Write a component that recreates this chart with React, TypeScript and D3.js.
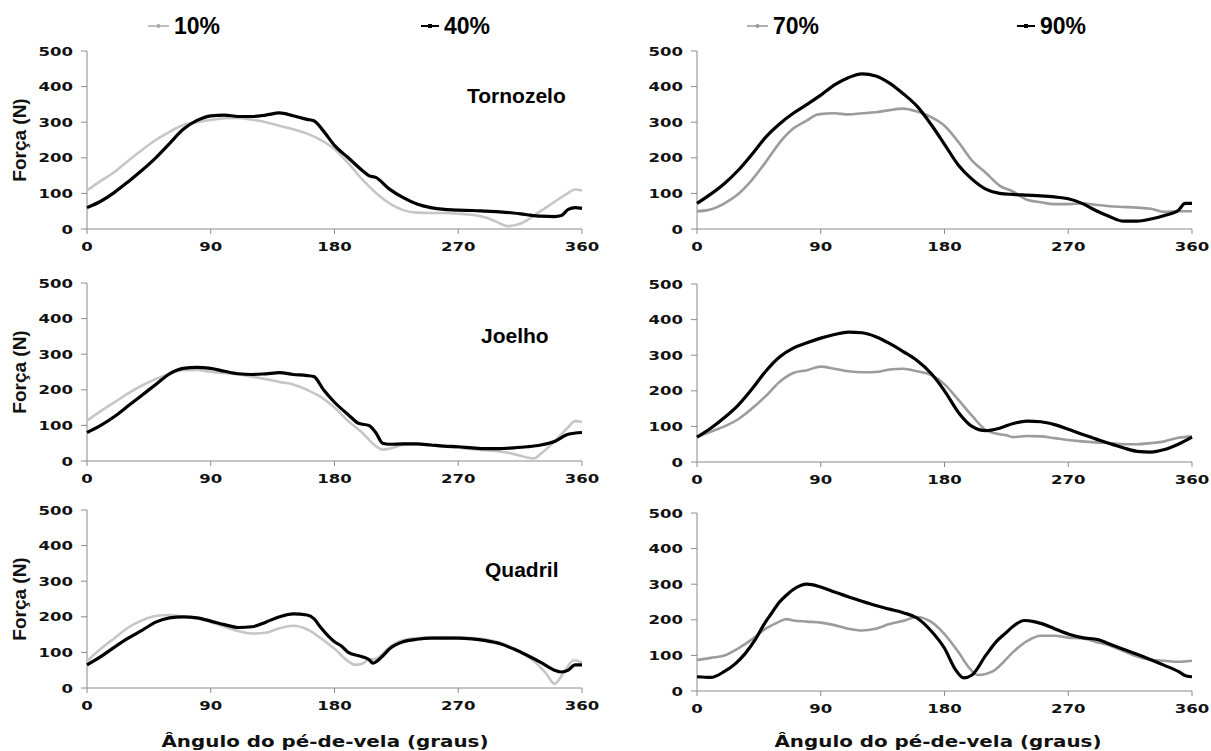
import React from 'react';
import * as d3 from 'd3';

const angleTicks = [0, 90, 180, 270, 360];
const forceTicks = [0, 100, 200, 300, 400, 500];
const joints = ['Tornozelo', 'Joelho', 'Quadril'];
const legendLeft = ['10%', '40%'];
const legendRight = ['70%', '90%'];
const xTitle = 'Ângulo do pé-de-vela (graus)';
const yTitle = 'Força (N)';

type Pt = [number, number];

const tornozelo10: Pt[] = [[0,108],[10,135],[20,160],[30,192],[40,222],[50,250],[60,273],[70,292],[80,300],[90,306],[100,311],[110,312],[120,307],[130,300],[140,290],[150,280],[160,268],[170,250],[180,225],[190,185],[200,140],[210,102],[220,72],[230,53],[240,46],[250,45],[260,45],[270,43],[280,40],[290,32],[298,20],[306,8],[318,20],[327,43],[338,71],[349,99],[355,111],[360,108]];
const tornozelo40: Pt[] = [[0,60],[10,78],[20,103],[30,133],[40,165],[50,200],[60,240],[70,280],[80,305],[90,318],[100,320],[110,316],[120,316],[130,320],[140,326],[150,318],[160,308],[165,304],[172,275],[180,235],[190,200],[200,165],[205,150],[210,145],[220,112],[230,88],[240,70],[250,60],[260,55],[270,53],[280,52],[290,50],[300,48],[310,45],[320,40],[330,36],[340,35],[345,38],[350,55],[355,60],[360,58]];
const tornozelo70: Pt[] = [[0,50],[8,53],[15,62],[20,72],[30,98],[40,138],[50,188],[60,242],[70,282],[80,305],[88,322],[100,325],[110,322],[120,325],[130,328],[140,334],[150,338],[160,330],[170,315],[180,290],[190,245],[200,192],[210,158],[220,122],[230,105],[240,82],[250,75],[260,70],[270,70],[280,72],[290,68],[300,64],[310,62],[320,60],[330,57],[340,48],[350,50],[360,50]];
const tornozelo90: Pt[] = [[0,72],[10,98],[20,128],[30,165],[40,210],[50,258],[60,295],[70,325],[80,350],[90,376],[100,405],[110,425],[120,436],[130,430],[140,410],[150,380],[160,345],[170,295],[180,238],[190,180],[200,140],[210,112],[220,100],[230,97],[240,95],[250,93],[260,90],[270,85],[280,72],[290,52],[300,35],[310,22],[320,22],[330,28],[340,38],[350,52],[355,72],[360,72]];

const joelho10: Pt[] = [[0,113],[10,140],[20,165],[30,190],[40,212],[50,230],[60,245],[70,255],[80,256],[90,251],[100,247],[110,243],[120,237],[130,230],[140,222],[150,215],[160,200],[170,180],[180,150],[190,112],[200,80],[210,42],[215,32],[220,35],[230,45],[240,47],[250,45],[260,40],[270,37],[280,33],[290,30],[300,27],[310,20],[320,10],[325,7],[330,20],[340,55],[350,95],[355,112],[360,110]];
const joelho40: Pt[] = [[0,80],[10,100],[20,125],[30,155],[40,185],[50,215],[60,245],[70,260],[80,263],[90,260],[100,252],[110,245],[120,243],[130,245],[140,248],[150,243],[160,240],[165,237],[172,200],[180,165],[190,130],[198,105],[205,100],[210,80],[215,50],[220,47],[230,48],[240,48],[250,45],[260,42],[270,40],[280,37],[290,35],[300,35],[310,37],[320,40],[330,45],[340,55],[350,75],[360,80]];
const joelho70: Pt[] = [[0,70],[10,85],[20,100],[30,120],[40,150],[50,185],[60,225],[70,250],[80,258],[90,268],[100,262],[110,255],[120,252],[130,253],[140,260],[150,262],[160,255],[170,245],[180,218],[190,175],[200,130],[210,90],[220,78],[225,75],[230,70],[240,73],[250,72],[260,67],[270,62],[280,58],[290,55],[300,53],[310,50],[320,50],[330,53],[340,58],[350,68],[360,72]];
const joelho90: Pt[] = [[0,70],[10,95],[20,125],[30,160],[40,205],[50,255],[60,295],[70,320],[80,335],[90,348],[100,358],[110,365],[120,363],[130,352],[140,333],[150,310],[160,285],[170,250],[180,200],[190,140],[200,100],[210,88],[220,95],[230,108],[240,115],[250,113],[260,105],[270,92],[280,78],[290,65],[300,52],[310,40],[320,30],[330,28],[340,35],[350,50],[360,70]];

const quadril10: Pt[] = [[0,75],[10,110],[20,140],[30,170],[40,190],[50,202],[60,205],[70,200],[80,195],[90,185],[100,172],[110,160],[120,153],[130,155],[140,168],[150,175],[160,165],[170,140],[180,110],[190,75],[195,65],[200,68],[205,80],[210,82],[220,115],[230,135],[240,140],[250,142],[260,143],[270,142],[280,140],[290,137],[300,128],[310,112],[320,90],[328,65],[334,40],[340,12],[347,45],[354,78],[360,72]];
const quadril40: Pt[] = [[0,65],[10,88],[20,115],[30,140],[40,162],[50,185],[60,197],[70,200],[80,197],[90,188],[100,178],[110,170],[120,172],[130,185],[140,200],[150,208],[160,205],[165,195],[170,170],[180,130],[185,118],[190,100],[200,88],[205,80],[208,70],[215,90],[220,110],[230,130],[240,137],[250,140],[260,140],[270,140],[280,138],[290,133],[300,125],[310,110],[320,92],[330,72],[340,50],[345,45],[350,50],[355,65],[360,65]];
const quadril70: Pt[] = [[0,87],[10,93],[20,100],[30,120],[40,145],[50,175],[60,195],[65,202],[70,198],[80,195],[90,192],[100,185],[110,175],[120,170],[130,175],[140,188],[150,197],[160,208],[170,195],[180,160],[190,110],[198,65],[204,45],[210,48],[215,55],[220,70],[230,110],[240,140],[250,155],[260,155],[270,150],[280,148],[290,138],[300,128],[310,112],[320,97],[330,88],[340,85],[350,82],[360,85]];
const quadril90: Pt[] = [[0,40],[10,38],[20,55],[28,77],[35,105],[42,142],[50,195],[54,217],[60,250],[65,269],[70,285],[80,300],[90,292],[100,278],[110,265],[120,252],[130,240],[140,230],[150,220],[160,205],[170,170],[180,120],[188,60],[194,37],[200,45],[210,100],[218,140],[224,161],[230,182],[238,198],[245,195],[250,190],[260,175],[270,160],[280,150],[292,144],[300,132],[310,117],[320,103],[330,88],[340,72],[350,55],[356,42],[360,40]];

const panelSeries: Pt[][][] = [
  [tornozelo10, tornozelo40], [tornozelo70, tornozelo90],
  [joelho10, joelho40], [joelho70, joelho90],
  [quadril10, quadril40], [quadril70, quadril90],
];

// layout (pixels)
const layout = [
  { x0: 87, x1: 582, y0: 51, y1: 229 },
  { x0: 697, x1: 1192, y0: 51, y1: 229 },
  { x0: 87, x1: 582, y0: 283, y1: 461 },
  { x0: 697, x1: 1192, y0: 284, y1: 462 },
  { x0: 87, x1: 582, y0: 510, y1: 688 },
  { x0: 697, x1: 1192, y0: 513, y1: 691 },
];
const jointLabelPos = [
  { x: 467, y: 103 },
  { x: 481, y: 343 },
  { x: 485, y: 577 },
];
const grayLeft = '#c6c6c6';
const grayRight = '#9c9c9c';
const axisColor = '#8a8a8a';
const tickFont = '"DejaVu Sans", Verdana, sans-serif';
const textFont = '"Liberation Sans", Arial, sans-serif';

function Panel({ idx }: { idx: number }) {
  const L = layout[idx];
  const x = d3.scaleLinear().domain([0, 360]).range([L.x0, L.x1]);
  const y = d3.scaleLinear().domain([0, 500]).range([L.y1, L.y0]);
  const line = d3
    .line<Pt>()
    .x((d) => x(d[0]))
    .y((d) => y(d[1]))
    .curve(d3.curveMonotoneX);
  const right = idx % 2 === 1;
  const [g, b] = panelSeries[idx];
  const digitW = 11.5;
  return (
    <g>
      <line x1={L.x0} x2={L.x0} y1={y(500)} y2={y(0)} stroke={axisColor} strokeWidth={1} />
      <line x1={L.x0} x2={L.x1} y1={y(0)} y2={y(0)} stroke={axisColor} strokeWidth={1} />
      {forceTicks.map((t) => (
        <g key={'y' + t}>
          <line x1={L.x0 - 6} x2={L.x0} y1={y(t)} y2={y(t)} stroke={axisColor} strokeWidth={1} />
          <text
            x={L.x0 - 14}
            y={y(t) + 4.5}
            textAnchor="end"
            fontFamily={tickFont}
            fontWeight="bold"
            fontSize={12.5}
            textLength={String(t).length * digitW}
            lengthAdjust="spacingAndGlyphs"
            fill="#111"
          >
            {t}
          </text>
        </g>
      ))}
      {angleTicks.map((t) => (
        <g key={'x' + t}>
          <line x1={x(t)} x2={x(t)} y1={y(0)} y2={y(0) + 5} stroke={axisColor} strokeWidth={1} />
          <text
            x={x(t)}
            y={y(0) + 22}
            textAnchor="middle"
            fontFamily={tickFont}
            fontWeight="bold"
            fontSize={12.5}
            textLength={String(t).length * digitW}
            lengthAdjust="spacingAndGlyphs"
            fill="#111"
          >
            {t}
          </text>
        </g>
      ))}
      <path d={line(g) || ''} fill="none" stroke={right ? grayRight : grayLeft} strokeWidth={2.6} strokeLinejoin="round" />
      <path d={line(b) || ''} fill="none" stroke="#000" strokeWidth={3.2} strokeLinejoin="round" />
      {!right && (
        <text
          x={26}
          y={(L.y0 + L.y1) / 2}
          transform={`rotate(-90, 26, ${(L.y0 + L.y1) / 2})`}
          textAnchor="middle"
          fontFamily={textFont}
          fontWeight="bold"
          fontSize={19}
          fill="#111"
        >
          {yTitle}
        </text>
      )}
      {!right && (
        <text
          x={jointLabelPos[idx / 2].x}
          y={jointLabelPos[idx / 2].y}
          fontFamily={textFont}
          fontWeight="bold"
          fontSize={21}
          fill="#000"
        >
          {joints[idx / 2]}
        </text>
      )}
    </g>
  );
}

function LegendItem({ x, label, dark, gray }: { x: number; label: string; dark: boolean; gray: string }) {
  const lineLen = dark ? 18 : 21;
  return (
    <g>
      <line x1={x} x2={x + lineLen} y1={26} y2={26} stroke={dark ? '#000' : gray} strokeWidth={dark ? 2 : 1.5} />
      {dark ? (
        <rect x={x + lineLen / 2 - 2} y={24} width={4} height={4} fill="#000" />
      ) : (
        <circle cx={x + lineLen / 2} cy={26} r={2} fill={gray} />
      )}
      <text x={x + lineLen + 5} y={34} fontFamily={textFont} fontWeight="bold" fontSize={23} fill="#000">
        {label}
      </text>
    </g>
  );
}

export default function App() {
  return (
    <svg
      width={1211}
      height={751}
      style={{ position: 'absolute', left: 0, top: 0, background: '#fff', display: 'block' }}
    >
      <rect x={0} y={0} width={1211} height={751} fill="#fff" />
      <LegendItem x={148} label={legendLeft[0]} dark={false} gray="#aaaaaa" />
      <LegendItem x={421} label={legendLeft[1]} dark={true} gray="#000" />
      <LegendItem x={747} label={legendRight[0]} dark={false} gray="#999999" />
      <LegendItem x={1017} label={legendRight[1]} dark={true} gray="#000" />
      {layout.map((_, i) => (
        <Panel key={i} idx={i} />
      ))}
      <text
        x={325}
        y={747}
        textAnchor="middle"
        fontFamily={tickFont}
        fontWeight="bold"
        fontSize={16}
        textLength={327}
        lengthAdjust="spacingAndGlyphs"
        fill="#111"
      >
        {xTitle}
      </text>
      <text
        x={938}
        y={747}
        textAnchor="middle"
        fontFamily={tickFont}
        fontWeight="bold"
        fontSize={16}
        textLength={327}
        lengthAdjust="spacingAndGlyphs"
        fill="#111"
      >
        {xTitle}
      </text>
    </svg>
  );
}
